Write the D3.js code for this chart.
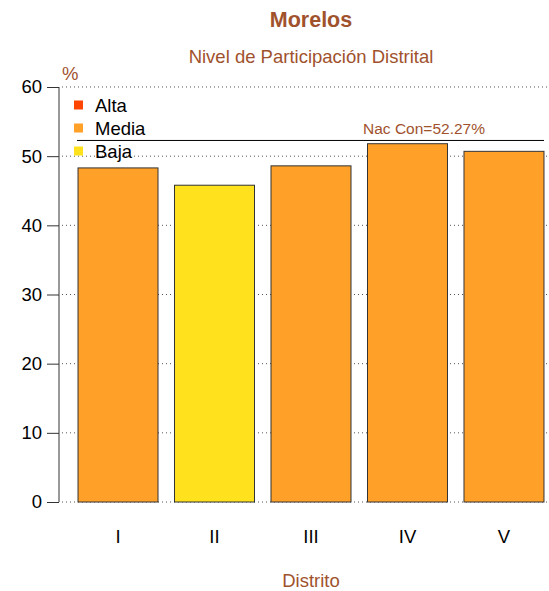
<!DOCTYPE html>
<html><head><meta charset="utf-8">
<script src="https://cdn.jsdelivr.net/npm/d3@7"></script>
<style>body{margin:0;background:#fff}svg{display:block;font-family:"Liberation Sans",Arial,sans-serif}</style>
</head><body><svg id="c" width="549" height="591"></svg>
<script>
const categories = ["I","II","III","IV","V"];
const values = [48.3, 45.8, 48.6, 51.8, 50.7];
const levels = ["Media","Baja","Media","Media","Media"];
const legendLabels = ["Alta","Media","Baja"];
const legendColors = ["#FF4500","#FFA028","#FFE11E"];
const yTicks = [0,10,20,30,40,50,60];
const nacCon = 52.27;

const svg = d3.select("#c");
const sienna = "#A0522D";
const fs = 18.5;
const colorOf = d3.scaleOrdinal().domain(legendLabels).range(legendColors);

const y = d3.scaleLinear().domain([0,60]).range([502,87]);
const x = d3.scaleBand().domain(categories).range([62,560]).paddingInner(0.171).paddingOuter(0.166);

// title
svg.append("text").attr("x",311).attr("y",27).attr("text-anchor","middle")
  .attr("font-size",21.5).attr("font-weight","bold").attr("fill",sienna).text("Morelos");
svg.append("text").attr("x",311).attr("y",63).attr("text-anchor","middle")
  .attr("font-size",fs).attr("fill",sienna).text("Nivel de Participación Distrital");
svg.append("text").attr("x",62).attr("y",80).attr("font-size",fs).attr("fill",sienna).text("%");
svg.append("text").attr("x",311).attr("y",587).attr("text-anchor","middle")
  .attr("font-size",fs).attr("fill",sienna).text("Distrito");

// grid
svg.append("g").selectAll("line").data(yTicks).join("line")
  .attr("x1",62).attr("x2",549).attr("y1",d=>y(d)).attr("y2",d=>y(d))
  .attr("stroke","#555").attr("stroke-width",1).attr("stroke-dasharray","1,3");

// y axis
const ya = svg.append("g").attr("transform","translate(59,0)")
  .call(d3.axisLeft(y).tickValues(yTicks).tickSize(12).tickPadding(5));
ya.select(".domain").attr("stroke","#333").attr("d","M0,"+y(0)+"V"+y(60));
ya.selectAll(".tick line").attr("stroke","#333");
ya.selectAll("text").attr("font-size",fs).attr("fill","#000").attr("font-family","Liberation Sans, Arial, sans-serif");

// bars
svg.append("g").selectAll("rect").data(categories).join("rect")
  .attr("x",d=>x(d)).attr("width",x.bandwidth())
  .attr("y",(d,i)=>y(values[i])).attr("height",(d,i)=>y(0)-y(values[i]))
  .attr("fill",(d,i)=>colorOf(levels[i])).attr("stroke","#333").attr("stroke-width",1);

// x labels
svg.append("g").selectAll("text").data(categories).join("text")
  .attr("x",d=>x(d)+x.bandwidth()/2).attr("y",543).attr("text-anchor","middle")
  .attr("font-size",fs).attr("fill","#000").text(d=>d);

// nac con line
svg.append("line").attr("x1",77).attr("x2",544).attr("y1",y(nacCon)).attr("y2",y(nacCon))
  .attr("stroke","#000").attr("stroke-width",1);
svg.append("text").attr("x",424).attr("y",134).attr("text-anchor","middle")
  .attr("font-size",15.5).attr("fill",sienna).text("Nac Con="+nacCon+"%");

// legend
const lg = svg.append("g").selectAll("g").data(legendLabels).join("g")
  .attr("transform",(d,i)=>`translate(0,${105+i*23})`);
lg.append("rect").attr("x",74).attr("y",-4.5).attr("width",9).attr("height",9).attr("fill",(d,i)=>legendColors[i]);
lg.append("text").attr("x",95).attr("y",6.5).attr("font-size",fs).attr("fill","#000").text(d=>d);
</script></body></html>
